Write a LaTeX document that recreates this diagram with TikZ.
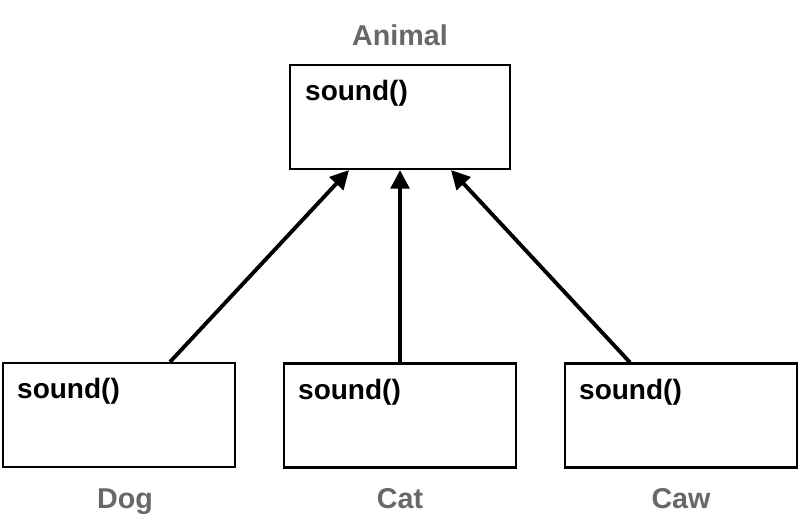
\documentclass[tikz,border=0pt]{standalone}
\usepackage{fontspec}
\setmainfont{Liberation Sans}
\usepackage{tikz}
\usetikzlibrary{arrows.meta,positioning}

\definecolor{tagGray}{RGB}{104,104,104}

\tikzset{
  classbox/.style={draw=black, line width=1.6pt, rectangle, minimum width=174pt, minimum height=78pt, inner sep=0pt},
  method/.style={anchor=base west, inner sep=0pt, font=\fontsize{21}{25}\selectfont\bfseries},
  tag/.style={anchor=base, inner sep=0pt, text=tagGray, font=\fontsize{21.5}{25}\selectfont\bfseries},
  inherit/.style={line width=2.9pt, -{Triangle[length=14pt,width=14pt]}}
}

\begin{document}
\begin{tikzpicture}[x=0.75pt,y=0.75pt,yscale=-1]
\useasboundingbox (0,0) rectangle (812,528);

% classes
\node[classbox, minimum width=165pt] (animal) at (400,117) {};
\node[classbox] (dog) at (119,415) {};
\node[classbox] (cat) at (400,415.5) {};
\node[classbox] (caw) at (681,415.5) {};

% methods (yshift runs downwards here because of yscale=-1)
\node[method] (animalm) at ([xshift=12pt,yshift=27.75pt]animal.north west) {sound()};
\node[method] (dogm) at ([xshift=11.25pt,yshift=27.75pt]dog.north west) {sound()};
\node[method] (catm) at ([xshift=11.25pt,yshift=27.75pt]cat.north west) {sound()};
\node[method] (cawm) at ([xshift=11.25pt,yshift=27.75pt]caw.north west) {sound()};

% class names
\node[tag] (animaltag) at ([yshift=-13.5pt]animal.north) {Animal};
\node[tag] (dogtag) at ([xshift=4.5pt,yshift=30pt]dog.south) {Dog};
\node[tag] (cattag) at ([yshift=30pt]cat.south) {Cat};
\node[tag] (cawtag) at ([yshift=30pt]caw.south) {Caw};

% inheritance
\draw[inherit] ([xshift=38.25pt]dog.north) -- ([xshift=-38.25pt]animal.south);
\draw[inherit] (cat.north) -- (animal.south);
\draw[inherit] ([xshift=-38.25pt]caw.north) -- ([xshift=38.25pt]animal.south);

\end{tikzpicture}
\end{document}
